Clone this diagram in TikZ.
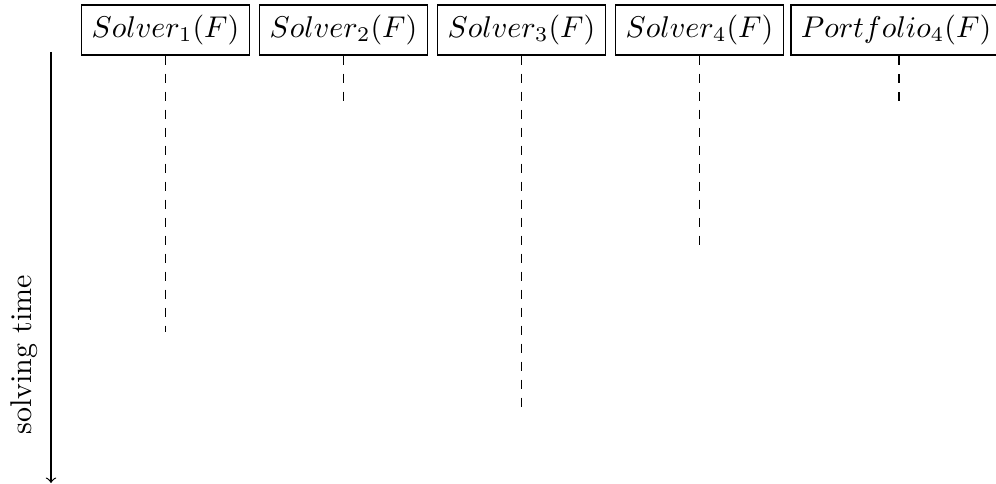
\documentclass[tikz,border=0pt]{standalone}
\begin{document}
\begin{tikzpicture}[x=0.3333pt,y=-0.3333pt,
  solverbox/.style={draw,line width=0.4pt,minimum height=16pt,inner sep=3.33pt},
  portbox/.style={draw,line width=0.8pt,minimum height=16pt,inner sep=3.33pt},
  life/.style={dashed,line width=0.4pt},
  lifethick/.style={dashed,line width=0.8pt}]
\useasboundingbox (0,0) rectangle (996,484);
\node[solverbox] (s1) at (165.5,30) {$Solver_1(F)$};
\node[solverbox] (s2) at (343.5,30) {$Solver_2(F)$};
\node[solverbox] (s3) at (521.5,30) {$Solver_3(F)$};
\node[solverbox] (s4) at (699.5,30) {$Solver_4(F)$};
\node[portbox] (p) at (896,30) {$Portfolio_4(F)$};
\coordinate (e1) at (165.5,332);
\coordinate (e2) at (343.5,105);
\coordinate (e3) at (521.5,408);
\coordinate (e4) at (699.5,253);
\coordinate (ep) at (899,105);
\draw[life] (s1.south) -- (e1);
\draw[life] (s2.south) -- (e2);
\draw[life] (s3.south) -- (e3);
\draw[life] (s4.south) -- (e4);
\draw[lifethick] (p.south -| ep) -- (ep);
\coordinate (t0) at (51,52);
\coordinate (t1) at (51,483);
\draw[->,line width=0.4pt] (t0) -- (t1);
\node[rotate=90] (lab) at (24,355) {solving time};
\end{tikzpicture}
\end{document}
